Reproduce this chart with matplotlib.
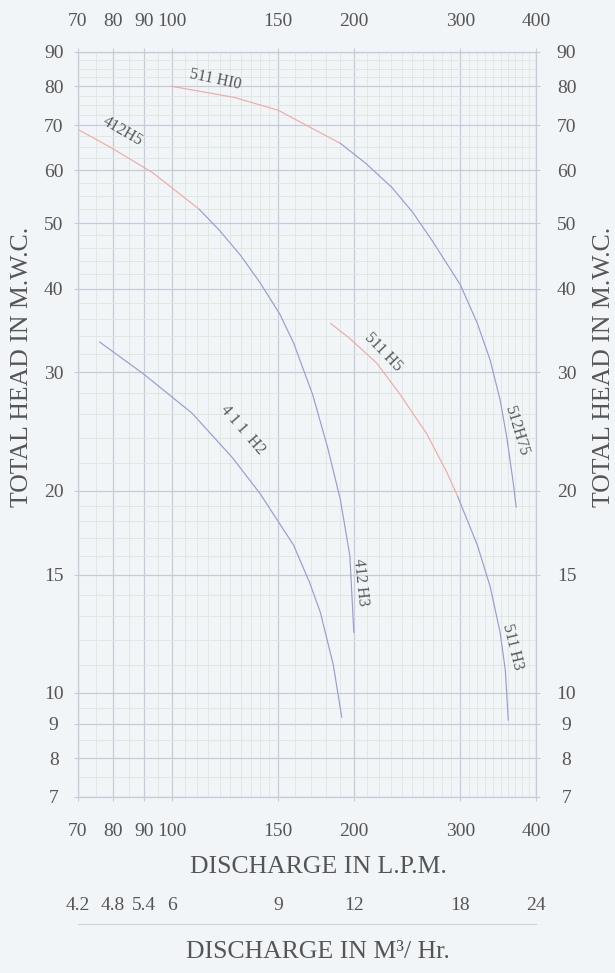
"""Pump performance chart: total head vs discharge on log-log paper."""
import numpy as np
import matplotlib
matplotlib.use("Agg")
import matplotlib.pyplot as plt
from matplotlib.ticker import NullFormatter, NullLocator

plt.rcParams["font.family"] = ["Liberation Serif", "DejaVu Serif"]

# --------------------------------------------------------------------------- #
# Data
# --------------------------------------------------------------------------- #
lpm_ticks = [70, 80, 90, 100, 150, 200, 300, 400]
m3h_ticks = [4.2, 4.8, 5.4, 6, 9, 12, 18, 24]
m3h_labels = ["4.2", "4.8", "5.4", "6", "9", "12", "18", "24"]
head_ticks = [7, 8, 9, 10, 15, 20, 30, 40, 50, 60, 70, 80, 90]

# 511 H10 (upper part) -> 512 H75 (lower part)
h10_q = [100, 127, 150, 172, 190]
h10_h = [80, 77, 73.7, 69, 65.8]
h75_q = [190, 209, 231, 250, 270, 300, 320, 336, 349, 358, 367, 371]
h75_h = [65.8, 61.5, 56.6, 52.0, 47.0, 40.5, 35.5, 31.3, 27.3, 24.0, 20.5, 18.9]

# 412 H5 -> 412 H3
h5a_q = [70, 79, 93, 111]
h5a_h = [69, 65, 59.5, 52.5]
h3a_q = [111, 120, 130, 140, 151, 159, 171, 181, 190, 197, 200]
h3a_h = [52.5, 48.8, 44.8, 40.8, 36.6, 33.2, 27.8, 23.2, 19.4, 16.0, 12.3]

# 411 H2
h2_q = [76, 89.6, 108, 126, 140, 159, 169, 176, 185, 191]
h2_h = [33.3, 29.9, 26.1, 22.4, 19.8, 16.6, 14.6, 13.2, 11.0, 9.2]

# 511 H5 -> 511 H3
h5b_q = [183, 197, 218, 238, 264, 285, 297]
h5b_h = [35.5, 33.7, 31.0, 27.9, 24.3, 21.3, 19.6]
h3b_q = [297, 320, 336, 349, 356, 360]
h3b_h = [19.6, 16.6, 14.4, 12.3, 10.8, 9.1]

# curve labels: text, Q, H, rotation
labels = [
    ("511 HI0", 118, 82.0, -12),
    ("412H5", 83, 68.5, -30),
    ("511 H5", 224, 32.2, -46),
    ("512H75", 371, 24.6, -73),
    ("4 1 1  H2", 131, 24.6, -49),
    ("412 H3", 205, 14.6, -84),
    ("511 H3", 366, 11.7, -76),
]

BG = "#f2f5f8"
MAJOR = "#c4ccd6"
MINOR = "#dbe9dc"
BLUE = "#979dd0"
PINK = "#f1aaa6"
TEXT = "#555555"


def _minor(vals, majors):
    return [v for v in vals if not np.isclose(v, majors).any()]


x_minor = _minor(np.r_[np.arange(75, 150, 5), np.arange(150, 400, 10)], lpm_ticks)
y_minor = _minor(np.r_[np.arange(7.5, 10, 0.5), np.arange(10, 20, 1),
                       np.arange(20, 50, 2), np.arange(50, 90, 2.5)], head_ticks)

# --------------------------------------------------------------------------- #
# Figure
# --------------------------------------------------------------------------- #
fig = plt.figure(figsize=(6.15, 9.73), dpi=100, facecolor=BG)
ax = fig.add_axes([0.1268, 0.1809, 0.7447, 0.7657], facecolor=BG)
ax.set_xscale("log")
ax.set_yscale("log")
ax.set_xlim(70, 400)
ax.set_ylim(7, 90)

ax.set_xticks(lpm_ticks, [str(v) for v in lpm_ticks])
ax.set_xticks(x_minor, minor=True)
ax.set_yticks(head_ticks, [str(v) for v in head_ticks])
ax.set_yticks(y_minor, minor=True)
ax.xaxis.set_minor_formatter(NullFormatter())
ax.yaxis.set_minor_formatter(NullFormatter())

ax.grid(which="major", color=MAJOR, lw=0.9)
ax.grid(which="minor", color=MINOR, lw=0.6)
ax.set_axisbelow(True)
for s in ax.spines.values():
    s.set_color(MAJOR)
    s.set_linewidth(0.9)

ax.tick_params(which="major", length=3, color=MAJOR, labelsize=14, labelcolor=TEXT)
ax.tick_params(which="minor", length=0)
ax.tick_params(axis="x", pad=16)
ax.tick_params(axis="y", pad=14.5)
for lbl in ax.get_yticklabels():
    lbl.set_ha("center")

# top and right duplicates of the scales
top = ax.twiny()
top.set_xscale("log")
top.set_xlim(ax.get_xlim())
top.set_xticks(lpm_ticks, [str(v) for v in lpm_ticks])
top.xaxis.set_minor_locator(NullLocator())
top.tick_params(length=3, color=MAJOR, labelsize=14, labelcolor=TEXT, pad=13)
for s in top.spines.values():
    s.set_visible(False)

right = ax.twinx()
right.set_yscale("log")
right.set_ylim(ax.get_ylim())
right.set_yticks(head_ticks, [str(v) for v in head_ticks])
right.yaxis.set_minor_locator(NullLocator())
right.tick_params(length=3, color=MAJOR, labelsize=14, labelcolor=TEXT, pad=19)
for lbl in right.get_yticklabels():
    lbl.set_ha("center")
for s in right.spines.values():
    s.set_visible(False)

# curves
for q, h, c in [(h10_q, h10_h, PINK), (h75_q, h75_h, BLUE),
                (h5a_q, h5a_h, PINK), (h3a_q, h3a_h, BLUE),
                (h2_q, h2_h, BLUE),
                (h5b_q, h5b_h, PINK), (h3b_q, h3b_h, BLUE)]:
    ax.plot(q, h, color=c, lw=0.85, solid_capstyle="round")

for txt, q, h, rot in labels:
    ax.text(q, h, txt, rotation=rot, rotation_mode="anchor", ha="center",
            va="center", fontsize=11.5, color=TEXT)

# axis titles
ax.set_xlabel("DISCHARGE IN L.P.M.", fontsize=18.5, color=TEXT, va="center")
ax.xaxis.set_label_coords(0.525, -0.094)
ax.set_ylabel("TOTAL HEAD IN M.W.C.", fontsize=18.5, color=TEXT, va="center")
ax.yaxis.set_label_coords(-0.122, 0.577)
right.set_ylabel("TOTAL HEAD IN M.W.C.", fontsize=18.5, color=TEXT, va="center")
right.yaxis.set_label_coords(1.148, 0.577)

# discharge in m3/hr scale below
m3 = fig.add_axes([0.1268, 1 - 924 / 973, 0.7447, 0.0005], facecolor="none")
m3.set_xscale("log")
m3.set_xlim(70 * 0.06, 400 * 0.06)
m3.set_xticks(m3h_ticks, m3h_labels)
m3.xaxis.set_minor_locator(NullLocator())
m3.set_yticks([])
m3.xaxis.set_ticks_position("top")
m3.tick_params(axis="x", length=0, labelsize=14, labelcolor=TEXT, pad=7)
for name, s in m3.spines.items():
    s.set_visible(name == "top")
m3.spines["top"].set_color("#d2d2d2")

fig.text(318 / 615, 1 - 952 / 973, "DISCHARGE IN M³/ Hr.", ha="center",
         va="center", fontsize=18.5, color=TEXT)

fig.savefig("out.png", dpi=100, facecolor=BG)
